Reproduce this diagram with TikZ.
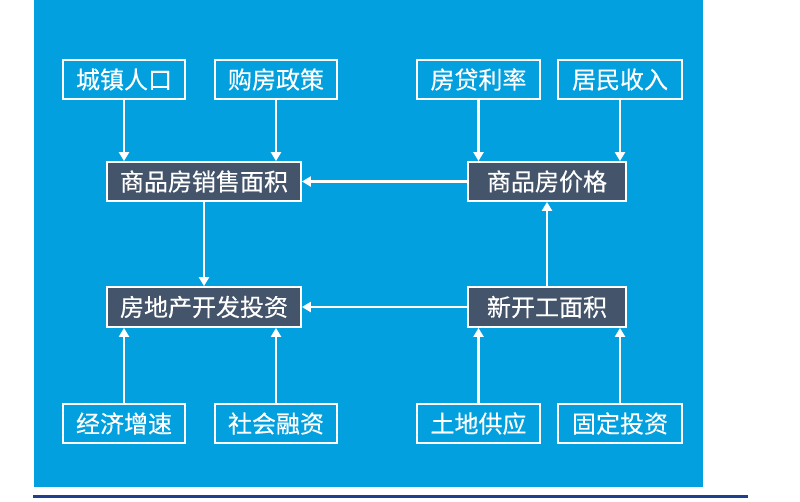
\documentclass[tikz,border=0pt]{standalone}
\usepackage{fontspec}
\newfontfamily\cjk[FakeBold=0.3]{Noto Sans CJK SC}
\usetikzlibrary{arrows.meta}
\definecolor{bgblue}{HTML}{02A0DE}
\definecolor{darkbox}{HTML}{44546A}
\definecolor{lineblue}{HTML}{1F3F8F}
\tikzset{
  lightbox/.style={draw=white,line width=1.8pt,text=white,inner sep=0pt,minimum height=39pt,font=\cjk\fontsize{24}{27}\selectfont},
  darkbx/.style={lightbox,fill=darkbox},
  conn/.style={draw=white,line width=2.5pt,-{Triangle[width=10pt,length=9pt]}}
}
\begin{document}
\begin{tikzpicture}[x=1pt,y=-1pt]
\useasboundingbox (0,0) rectangle (800,501);
\fill[bgblue] (34,0) rectangle (703,487);
\fill[lineblue] (33,494.5) rectangle (748,497.5);
% top
\node[lightbox,minimum width=122pt] (a1) at (124,79.5) {城镇人口};
\node[lightbox,minimum width=122pt] (a2) at (276,79.5) {购房政策};
\node[lightbox,minimum width=123pt] (a3) at (478.5,79.5) {房贷利率};
\node[lightbox,minimum width=124pt] (a4) at (620,79.5) {居民收入};
% dark
\node[darkbx,minimum width=194pt] (s) at (204,181.5) {商品房销售面积};
\node[darkbx,minimum width=158pt] (p) at (547,181.5) {商品房价格};
\node[darkbx,minimum width=194pt,minimum height=40pt] (d) at (204,307) {房地产开发投资};
\node[darkbx,minimum width=158pt,minimum height=40pt] (n) at (547,307) {新开工面积};
% bottom
\node[lightbox,minimum width=122pt] (b1) at (124,423.5) {经济增速};
\node[lightbox,minimum width=122pt] (b2) at (276,423.5) {社会融资};
\node[lightbox,minimum width=123pt] (b3) at (478.5,423.5) {土地供应};
\node[lightbox,minimum width=124pt] (b4) at (620,423.5) {固定投资};
% connectors
\draw[conn] (a1.south) -- (a1.south |- s.north);
\draw[conn] (a2.south) -- (a2.south |- s.north);
\draw[conn] (a3.south) -- (a3.south |- p.north);
\draw[conn] (a4.south) -- (a4.south |- p.north);
\draw[conn] (p.west) -- (s.east);
\draw[conn] (s.south) -- (d.north);
\draw[conn] (n.north) -- (p.south);
\draw[conn] (n.west) -- (d.east);
\draw[conn] (b1.north) -- (b1.north |- d.south);
\draw[conn] (b2.north) -- (b2.north |- d.south);
\draw[conn] (b3.north) -- (b3.north |- n.south);
\draw[conn] (b4.north) -- (b4.north |- n.south);
\end{tikzpicture}
\end{document}
